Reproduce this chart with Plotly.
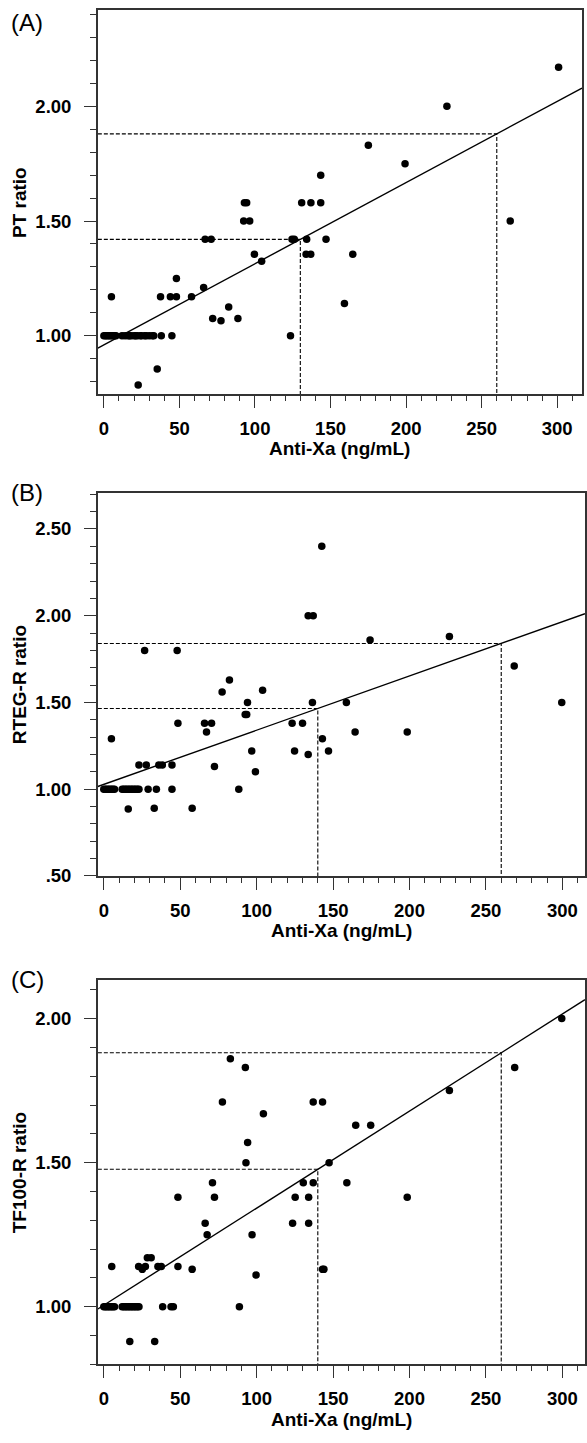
import plotly.graph_objects as go

W, H = 587, 1443

# ---------------- data ----------------
# Panel A : PT ratio
a_row1_x = [0, 1, 2, 3, 4, 5, 6, 7, 8, 12, 14, 16, 17, 18, 20, 21, 22, 24, 25, 27, 28, 30, 32, 33, 38, 45, 123.5]
a_x = [5, 22.7, 35.3, 37.5, 44, 48, 48, 58, 66, 67, 71, 72, 77.5, 82.6, 88.7, 93, 94.5, 92.5, 96.5,
       99.6, 104.4, 124.5, 126, 130.9, 137, 143.5, 143.5, 134.2, 133.8, 136.9, 147, 164.7, 159.2,
       175, 199.3, 227, 268.9, 300.9]
a_y = [1.17, 0.785, 0.855, 1.17, 1.17, 1.17, 1.25, 1.17, 1.21, 1.42, 1.42, 1.075, 1.065, 1.125, 1.075,
       1.58, 1.58, 1.50, 1.50, 1.355, 1.325, 1.42, 1.42, 1.58, 1.58, 1.58, 1.70, 1.42, 1.355, 1.355,
       1.42, 1.355, 1.14, 1.83, 1.75, 2.00, 1.50, 2.17]
a_ref_x = [130, 260]
a_ref_y = [1.42, 1.88]

# Panel B : RTEG-R ratio
b_row1_x = [0, 1, 2, 3, 4, 5, 6, 7, 12, 13, 14, 15, 16, 17, 18, 19, 20, 21, 22, 23, 29, 34.4, 44.6, 88.3]
b_x = [5, 16, 33, 57.8, 23, 27.8, 36, 38.3, 44.6, 72.4, 26.7, 48, 48.5, 65.9, 70.5, 67.2, 77.4, 82.2,
       94, 92.5, 93.5, 96.8, 99.2, 103.9, 123.2, 130, 124.8, 133.7, 133.7, 137, 142.6, 136.5, 143,
       147, 158.7, 164.4, 198.5, 174.2, 226.1, 268.5, 299.6]
b_y = [1.29, 0.885, 0.89, 0.89, 1.14, 1.14, 1.14, 1.14, 1.14, 1.13, 1.80, 1.80, 1.38, 1.38, 1.38, 1.33,
       1.56, 1.63, 1.50, 1.43, 1.43, 1.22, 1.10, 1.57, 1.38, 1.38, 1.22, 1.20, 2.00, 2.00, 2.40, 1.50,
       1.29, 1.22, 1.50, 1.33, 1.33, 1.86, 1.88, 1.71, 1.50]
b_ref_x = [140, 260]
b_ref_y = [1.465, 1.84]

# Panel C : TF100-R ratio
c_row1_x = [0, 1, 2, 3, 4, 5, 6, 7, 12, 13, 14, 15, 16, 17, 18, 19, 20, 21, 22, 23, 38.5, 44, 45.5, 88.7]
c_x = [17, 33.3, 5.2, 22.8, 27.2, 35.4, 37.6, 48.5, 25.2, 28.5, 31, 57.8, 48.5, 66.3, 67.6, 71.1, 72.4,
       77.6, 82.8, 92.6, 94.1, 93, 97, 99.6, 104.4, 123.5, 125.2, 134, 130.5, 137, 134, 137, 143.1,
       147.4, 143.1, 144, 159, 164.8, 174.6, 198.5, 226.1, 268.8, 299.6]
c_y = [0.88, 0.88, 1.14, 1.14, 1.14, 1.14, 1.14, 1.14, 1.13, 1.17, 1.17, 1.13, 1.38, 1.29, 1.25, 1.43,
       1.38, 1.71, 1.86, 1.83, 1.57, 1.50, 1.25, 1.11, 1.67, 1.29, 1.38, 1.38, 1.43, 1.43, 1.29, 1.71,
       1.71, 1.50, 1.13, 1.13, 1.43, 1.63, 1.63, 1.38, 1.75, 1.83, 2.00]
c_ref_x = [140, 260]
c_ref_y = [1.477, 1.881]

x_ticks = [0, 50, 100, 150, 200, 250, 300]
x_title = "Anti-Xa (ng/mL)"

panels = [
    dict(label="(A)", ytitle="PT ratio", row1=a_row1_x, x=a_x, y=a_y, rx=a_ref_x, ry=a_ref_y,
         px=(98, 583), py=(10, 397), lab_y=23, xr=[-4, 316.4], yr=[0.745, 2.42],
         ytv=[1.0, 1.5, 2.0], ytt=["1.00", "1.50", "2.00"]),
    dict(label="(B)", ytitle="RTEG-R ratio", row1=b_row1_x, x=b_x, y=b_y, rx=b_ref_x, ry=b_ref_y,
         px=(98, 586), py=(496, 882), lab_y=496, xr=[-3.9, 314.8], yr=[0.5, 2.71],
         ytv=[0.5, 1.0, 1.5, 2.0, 2.5], ytt=[".50", "1.00", "1.50", "2.00", "2.50"]),
    dict(label="(C)", ytitle="TF100-R ratio", row1=c_row1_x, x=c_x, y=c_y, rx=c_ref_x, ry=c_ref_y,
         px=(98, 586), py=(987, 1374), lab_y=986, xr=[-3.9, 314.8], yr=[0.80, 2.133],
         ytv=[1.0, 1.5, 2.0], ytt=["1.00", "1.50", "2.00"]),
]

FONT = "Arial, Liberation Sans, Helvetica, sans-serif"
AX = "#333333"
fig = go.Figure()
layout = dict(width=W, height=H, margin=dict(l=0, r=0, t=0, b=0), plot_bgcolor="white",
              paper_bgcolor="white", showlegend=False, annotations=[])

for i, p in enumerate(panels):
    n = "" if i == 0 else str(i + 1)
    xa, ya = "x" + n, "y" + n
    xr, yr = p["xr"], p["yr"]
    # regression line through reference points
    slope = (p["ry"][1] - p["ry"][0]) / (p["rx"][1] - p["rx"][0])
    icpt = p["ry"][0] - slope * p["rx"][0]
    fig.add_trace(go.Scatter(x=[xr[0], xr[1]], y=[icpt + slope * xr[0], icpt + slope * xr[1]],
                             mode="lines", line=dict(color="black", width=1.4),
                             xaxis=xa, yaxis=ya, hoverinfo="skip"))
    for rxv, ryv in zip(p["rx"], p["ry"]):
        fig.add_trace(go.Scatter(x=[xr[0], rxv, rxv], y=[ryv, ryv, yr[0]], mode="lines",
                                 line=dict(color="black", width=1.1, dash="4px,2px"),
                                 xaxis=xa, yaxis=ya, hoverinfo="skip"))
    fig.add_trace(go.Scatter(x=p["row1"] + p["x"], y=[1.0] * len(p["row1"]) + p["y"], mode="markers",
                             marker=dict(color="black", size=7.5), xaxis=xa, yaxis=ya,
                             cliponaxis=False))
    yminor = [round(v * 0.1, 2) for v in range(1, 30) if yr[0] <= v * 0.1 <= yr[1]]
    layout["xaxis" + n] = dict(
        domain=[p["px"][0] / W, p["px"][1] / W], anchor=ya, range=xr,
        tickmode="array", tickvals=x_ticks, ticktext=[str(v) for v in x_ticks],
        ticks="outside", ticklen=12, tickwidth=1.3, tickcolor=AX,
        minor=dict(tickmode="array", tickvals=list(range(0, 320, 10)), ticks="outside",
                   ticklen=5, tickwidth=1.2, tickcolor=AX),
        showline=True, linecolor=AX, linewidth=1.5, mirror=True, showgrid=False, zeroline=False,
        tickfont=dict(family=FONT, size=18.5, color="black", weight="bold"),
        ticklabelstandoff=5)
    layout["yaxis" + n] = dict(
        domain=[1 - p["py"][1] / H, 1 - p["py"][0] / H], anchor=xa, range=yr,
        tickmode="array", tickvals=p["ytv"], ticktext=p["ytt"],
        ticks="outside", ticklen=12, tickwidth=1.3, tickcolor=AX,
        minor=dict(tickmode="array", tickvals=yminor, ticks="outside", ticklen=6,
                   tickwidth=1.2, tickcolor=AX),
        showline=True, linecolor=AX, linewidth=1.5, mirror=True, showgrid=False, zeroline=False,
        tickfont=dict(family=FONT, size=18.5, color="black", weight="bold"),
        ticklabelstandoff=9)
    layout["annotations"] += [
        dict(text=p["label"], x=9 / W, y=1 - p["lab_y"] / H, xref="paper", yref="paper",
             xanchor="left", yanchor="middle", showarrow=False,
             font=dict(family=FONT, size=24, color="black")),
        dict(text=p["ytitle"], x=19 / W, y=1 - (p["py"][0] + p["py"][1]) / 2 / H, xref="paper",
             yref="paper", xanchor="center", yanchor="middle", textangle=-90, showarrow=False,
             font=dict(family=FONT, size=19, color="black", weight="bold")),
        dict(text=x_title, x=(p["px"][0] + p["px"][1]) / 2 / W, y=1 - (p["py"][1] + 55) / H,
             xref="paper", yref="paper", xanchor="center", yanchor="middle", showarrow=False,
             font=dict(family=FONT, size=19, color="black", weight="bold")),
    ]

fig.update_layout(**layout)
fig.write_html("out.html", config={"displayModeBar": False},
               post_script="document.body.style.margin='0';"
                           "document.body.style.overflow='hidden';")
